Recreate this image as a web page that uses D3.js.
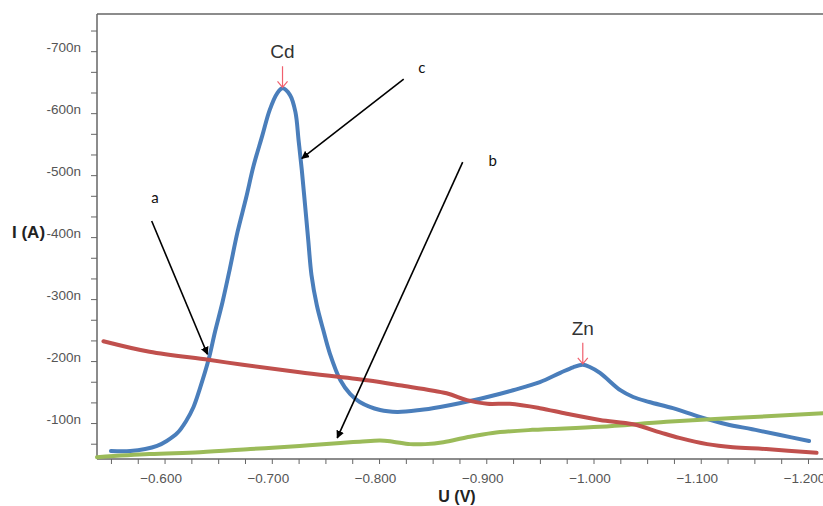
<!DOCTYPE html>
<html>
<head>
<meta charset="utf-8">
<script src="https://cdn.jsdelivr.net/npm/d3@7"></script>
<style>
  body { margin: 0; background: #fff; }
  svg { display: block; font-family: "Liberation Sans", Arial, sans-serif; }
</style>
</head>
<body>
<svg id="chart"></svg>
<script>
// Curve c (blue): U in V, I in nA
const curveC_U = [-0.550, -0.568, -0.582, -0.593, -0.602, -0.612, -0.620, -0.627, -0.633, -0.641, -0.647, -0.654, -0.661, -0.668, -0.676, -0.683, -0.691, -0.698, -0.705, -0.710, -0.717, -0.722, -0.725, -0.728, -0.731, -0.734, -0.737, -0.742, -0.748, -0.754, -0.764, -0.773, -0.782, -0.801, -0.817, -0.838, -0.857, -0.875, -0.901, -0.925, -0.950, -0.969, -0.981, -0.990, -0.997, -1.006, -1.025, -1.037, -1.052, -1.074, -1.099, -1.124, -1.148, -1.173, -1.201];
const curveC_I = [-55, -55, -58, -63, -71, -84, -103, -126, -156, -202, -247, -295, -350, -408, -463, -515, -563, -605, -632, -640, -629, -602, -556, -508, -452, -395, -339, -290, -250, -213, -169, -147, -134, -121, -118, -121, -126, -132, -142, -153, -166, -181, -190, -194, -190, -181, -153, -142, -134, -124, -110, -98, -90, -81, -71];

// Curve a (red)
const curveA_U = [-0.543, -0.586, -0.641, -0.673, -0.726, -0.789, -0.819, -0.863, -0.882, -0.901, -0.922, -0.950, -0.975, -1.006, -1.037, -1.062, -1.080, -1.106, -1.130, -1.161, -1.208];
const curveA_I = [-232, -215, -202, -194, -182, -169, -161, -148, -137, -131, -131, -124, -115, -105, -98, -85, -76, -66, -61, -58, -52];

// Curve b (green)
const curveB_U = [-0.537, -0.586, -0.633, -0.680, -0.726, -0.764, -0.782, -0.801, -0.813, -0.829, -0.843, -0.860, -0.882, -0.906, -0.943, -1.006, -1.068, -1.130, -1.214];
const curveB_I = [-45, -50, -53, -58, -63, -68, -70, -72, -70, -66, -66, -69, -77, -84, -89, -94, -102, -108, -116];

// Axis ticks
const xTickValues = d3.range(0, 27).map((i) => -0.55 - i * 0.025);
const xLabelValues = [-0.6, -0.7, -0.8, -0.9, -1.0, -1.1, -1.2];
const yTickValues = d3.range(2, 23).map((i) => (-i * 100) / 3);
const yLabelValues = [-100, -200, -300, -400, -500, -600, -700];

// Peak markers
const peakNames = ["Cd", "Zn"];
const peakU = [-0.710, -0.990];
const peakI = [-640, -194];

// Annotation arrows: label, label position, arrow start and end
const noteNames = ["a", "b", "c"];
const noteLabelU = [-0.591, -0.906, -0.840];
const noteLabelI = [-455, -515, -665];
const noteFromU = [-0.588, -0.878, -0.823];
const noteFromI = [-426, -521, -655];
const noteToU = [-0.640, -0.761, -0.728];
const noteToI = [-211, -76, -527];

const margin = { top: 14, right: 0, bottom: 47, left: 97 };
const width = 823 - margin.left - margin.right;
const height = 506 - margin.top - margin.bottom;

const svg = d3
  .select("#chart")
  .attr("width", width + margin.left + margin.right)
  .attr("height", height + margin.top + margin.bottom);

const defs = svg.append("defs");
defs
  .append("marker")
  .attr("id", "head")
  .attr("viewBox", "0 0 10 10")
  .attr("refX", 9)
  .attr("refY", 5)
  .attr("markerWidth", 8)
  .attr("markerHeight", 8)
  .attr("markerUnits", "userSpaceOnUse")
  .attr("orient", "auto")
  .append("path")
  .attr("d", "M0,0L10,5L0,10Z")
  .attr("fill", "#000");

const g = svg
  .append("g")
  .attr("transform", `translate(${margin.left},${margin.top})`);

const x = d3.scaleLinear().domain([-0.537, -1.214]).range([0, width]);
const y = d3.scaleLinear().domain([-42, -760]).range([height, 0]);

// Frame top line
g.append("line")
  .attr("x1", 0)
  .attr("x2", width)
  .attr("y1", 0)
  .attr("y2", 0)
  .attr("stroke", "#666")
  .attr("stroke-width", 1.5);

// Y axis
const yAxis = g
  .append("g")
  .call(
    d3
      .axisLeft(y)
      .tickValues(yTickValues)
      .tickSize(6)
      .tickSizeOuter(0)
      .tickFormat((d) => (yLabelValues.includes(Math.round(d)) ? Math.round(d) + "n" : ""))
  );
yAxis.select(".domain").attr("stroke", "#666").attr("stroke-width", 1.5).attr("d", `M0,0V${height}`);
yAxis.selectAll(".tick line").attr("stroke", "#666");
yAxis
  .selectAll("text")
  .attr("x", -16)
  .attr("dy", 0)
  .attr("fill", "#555")
  .style("font-size", "13.5px");

// X axis
const xAxis = g
  .append("g")
  .attr("transform", `translate(0,${height})`)
  .call(
    d3
      .axisBottom(x)
      .tickValues(xTickValues)
      .tickSize(5)
      .tickSizeOuter(0)
      .tickFormat((d) =>
        xLabelValues.some((v) => Math.abs(v - d) < 1e-6) ? d3.format(".3f")(d) : ""
      )
  );
xAxis.select(".domain").attr("stroke", "#666").attr("stroke-width", 1.5).attr("d", `M0,0H${width}`);
xAxis.selectAll(".tick line").attr("stroke", "#666");
xAxis
  .selectAll("text")
  .attr("y", 24)
  .attr("dy", 0)
  .attr("dx", -4)
  .attr("fill", "#555")
  .style("font-size", "13.5px");

// Axis titles
svg
  .append("text")
  .attr("x", 12)
  .attr("y", 238)
  .attr("fill", "#222")
  .attr("stroke", "#fff")
  .attr("stroke-width", 3)
  .attr("paint-order", "stroke")
  .style("font-size", "17px")
  .style("font-weight", "bold")
  .text("I (A)");

svg
  .append("text")
  .attr("x", 457)
  .attr("y", 502)
  .attr("text-anchor", "middle")
  .attr("fill", "#222")
  .style("font-size", "16px")
  .style("font-weight", "bold")
  .text("U (V)");

// Curves
const line = d3
  .line()
  .x((d) => x(d[0]))
  .y((d) => y(d[1]))
  .curve(d3.curveCatmullRom.alpha(0.5));

const series = [
  { u: curveC_U, i: curveC_I, color: "#4a7ebb" },
  { u: curveB_U, i: curveB_I, color: "#9bbb59" },
  { u: curveA_U, i: curveA_I, color: "#c0504d" },
];

g.selectAll(".curve")
  .data(series)
  .enter()
  .append("path")
  .attr("class", "curve")
  .attr("fill", "none")
  .attr("stroke", (d) => d.color)
  .attr("stroke-width", 4)
  .attr("stroke-linejoin", "round")
  .attr("stroke-linecap", "round")
  .attr("d", (d) => line(d.u.map((u, k) => [u, d.i[k]])));

// Peak markers
peakNames.forEach((name, k) => {
  const px = x(peakU[k]);
  const py = y(peakI[k]);
  g.append("path")
    .attr("d", `M${px},${py - 22}V${py - 1}M${px - 5},${py - 7}L${px},${py - 1}L${px + 5},${py - 7}`)
    .attr("fill", "none")
    .attr("stroke", "#f0606e")
    .attr("stroke-width", 1.2);
  g.append("text")
    .attr("x", px)
    .attr("y", py - 30)
    .attr("text-anchor", "middle")
    .attr("fill", "#333")
    .style("font-size", "19px")
    .text(name);
});

// Annotation arrows
noteNames.forEach((name, k) => {
  g.append("line")
    .attr("x1", x(noteFromU[k]))
    .attr("y1", y(noteFromI[k]))
    .attr("x2", x(noteToU[k]))
    .attr("y2", y(noteToI[k]))
    .attr("stroke", "#000")
    .attr("stroke-width", 1.6)
    .attr("marker-end", "url(#head)");
  g.append("text")
    .attr("x", x(noteLabelU[k]))
    .attr("y", y(noteLabelI[k]))
    .attr("text-anchor", "middle")
    .attr("fill", "#111")
    .style("font-family", "Lato, sans-serif")
    .style("font-size", "15px")
    .text(name);
});
</script>
</body>
</html>
